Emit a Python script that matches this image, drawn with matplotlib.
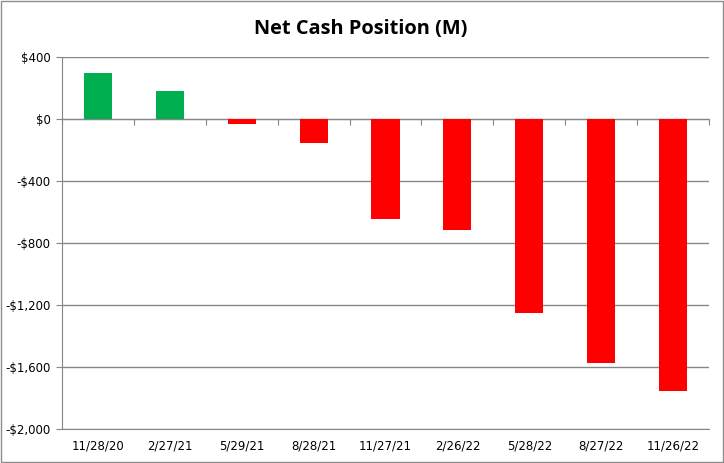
import matplotlib.pyplot as plt
import matplotlib.ticker as mticker

fechas = ['11/28/20', '2/27/21', '5/29/21', '8/28/21', '11/27/21',
          '2/26/22', '5/28/22', '8/27/22', '11/26/22']
caixa = [292, 181, -37, -159, -649, -720, -1251, -1574, -1759]  # em milhoes

cores = ['#00B050' if v >= 0 else '#FF0000' for v in caixa]
ymin, ymax = -2000, 400

fig = plt.figure(figsize=(7.24, 4.63), dpi=100)
ax = fig.add_axes([0.0856, 0.074, 0.8937, 0.8035])

x = list(range(len(fechas)))
ax.bar(x, caixa, width=0.39, color=cores, zorder=3)

ax.set_xlim(-0.5, len(fechas) - 0.5)
ax.set_ylim(ymin, ymax)
ax.set_yticks(range(ymin, ymax + 1, 400))


def dinheiro(v, pos):
    if v < 0:
        return '-${:,.0f}'.format(-v)
    return '${:,.0f}'.format(v)


ax.yaxis.set_major_formatter(mticker.FuncFormatter(dinheiro))
ax.grid(axis='y', color='#868686', linewidth=1, zorder=0)

# rotulos do eixo x ficam embaixo
ax.set_xticks(x)
ax.set_xticklabels(fechas)
ax.tick_params(axis='x', length=0, pad=8, labelsize=8.5)
ax.tick_params(axis='y', length=4, color='#868686', labelsize=8.5, pad=4)

for s in ['top', 'right']:
    ax.spines[s].set_visible(False)
ax.spines['left'].set_color('#868686')
ax.spines['bottom'].set_color('#868686')

# eixo de categorias cruza no zero, com tracinhos nas divisas
zero_pos = (0 - ymin) / (ymax - ymin)
sec = ax.secondary_xaxis(zero_pos)
sec.set_xticks([i + 0.5 for i in range(-1, len(fechas))])
sec.set_xticklabels([])
sec.tick_params(length=4, color='#868686', direction='in')
for s in sec.spines.values():
    s.set_color('#868686')

fig.text(0.498, 0.938, 'Net Cash Position (M)', ha='center', va='center',
         fontsize=14.4, fontweight='bold', family='Open Sans')

# borda da figura
fig.patches.append(plt.Rectangle((0.001, 0.002), 0.997, 0.996, transform=fig.transFigure,
                                 fill=False, edgecolor='#8c8c8c', linewidth=1.0))

fig.savefig('out.png', dpi=100)
